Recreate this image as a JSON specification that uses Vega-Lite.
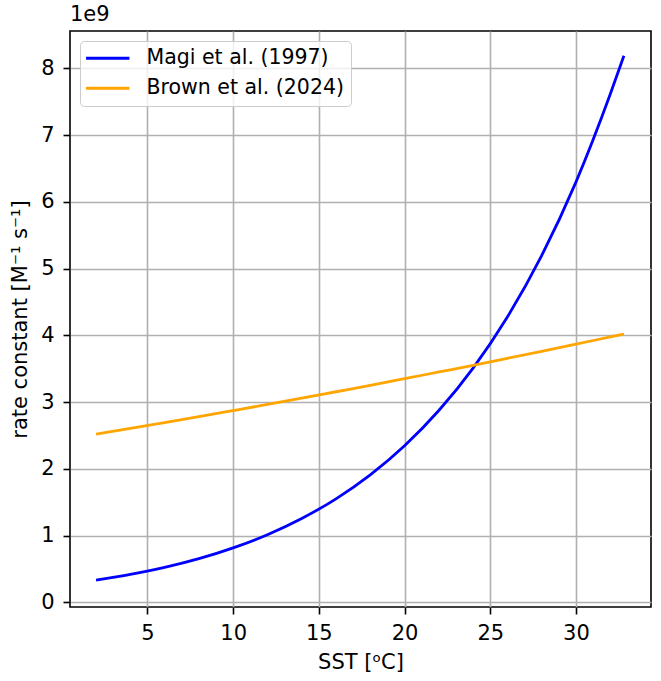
{
  "$schema": "https://vega.github.io/schema/vega-lite/v6.json",
  "width": 581,
  "height": 576,
  "autosize": {"type": "none"},
  "padding": {"left": 70, "top": 31, "right": 10, "bottom": 74},
  "title": {
    "text": "1e9",
    "anchor": "start",
    "frame": "group",
    "offset": 6,
    "font": "DejaVu Sans",
    "fontSize": 21,
    "fontWeight": "normal",
    "color": "black"
  },
  "data": {
    "values": [
      {"sst": 2, "k": 3.31e8, "source": "Magi et al. (1997)"},
      {"sst": 4, "k": 4.17e8, "source": "Magi et al. (1997)"},
      {"sst": 6, "k": 5.23e8, "source": "Magi et al. (1997)"},
      {"sst": 8, "k": 6.54e8, "source": "Magi et al. (1997)"},
      {"sst": 10, "k": 8.16e8, "source": "Magi et al. (1997)"},
      {"sst": 12, "k": 1.013e9, "source": "Magi et al. (1997)"},
      {"sst": 14, "k": 1.256e9, "source": "Magi et al. (1997)"},
      {"sst": 16, "k": 1.551e9, "source": "Magi et al. (1997)"},
      {"sst": 18, "k": 1.910e9, "source": "Magi et al. (1997)"},
      {"sst": 20, "k": 2.346e9, "source": "Magi et al. (1997)"},
      {"sst": 22, "k": 2.874e9, "source": "Magi et al. (1997)"},
      {"sst": 24, "k": 3.510e9, "source": "Magi et al. (1997)"},
      {"sst": 26, "k": 4.276e9, "source": "Magi et al. (1997)"},
      {"sst": 28, "k": 5.195e9, "source": "Magi et al. (1997)"},
      {"sst": 30, "k": 6.296e9, "source": "Magi et al. (1997)"},
      {"sst": 32, "k": 7.611e9, "source": "Magi et al. (1997)"},
      {"sst": 32.8, "k": 8.19e9, "source": "Magi et al. (1997)"},
      {"sst": 2, "k": 2.520e9, "source": "Brown et al. (2024)"},
      {"sst": 4, "k": 2.606e9, "source": "Brown et al. (2024)"},
      {"sst": 6, "k": 2.693e9, "source": "Brown et al. (2024)"},
      {"sst": 8, "k": 2.782e9, "source": "Brown et al. (2024)"},
      {"sst": 10, "k": 2.873e9, "source": "Brown et al. (2024)"},
      {"sst": 12, "k": 2.965e9, "source": "Brown et al. (2024)"},
      {"sst": 14, "k": 3.059e9, "source": "Brown et al. (2024)"},
      {"sst": 16, "k": 3.155e9, "source": "Brown et al. (2024)"},
      {"sst": 18, "k": 3.251e9, "source": "Brown et al. (2024)"},
      {"sst": 20, "k": 3.350e9, "source": "Brown et al. (2024)"},
      {"sst": 22, "k": 3.451e9, "source": "Brown et al. (2024)"},
      {"sst": 24, "k": 3.552e9, "source": "Brown et al. (2024)"},
      {"sst": 26, "k": 3.656e9, "source": "Brown et al. (2024)"},
      {"sst": 28, "k": 3.761e9, "source": "Brown et al. (2024)"},
      {"sst": 30, "k": 3.868e9, "source": "Brown et al. (2024)"},
      {"sst": 32, "k": 3.976e9, "source": "Brown et al. (2024)"},
      {"sst": 32.8, "k": 4.019e9, "source": "Brown et al. (2024)"}
    ]
  },
  "mark": {"type": "line", "strokeWidth": 2.8, "interpolate": "monotone", "clip": true},
  "encoding": {
    "x": {
      "field": "sst",
      "type": "quantitative",
      "title": "SST [ᵒC]",
      "scale": {"domain": [0.48, 34.38], "nice": false, "zero": false},
      "axis": {"values": [5, 10, 15, 20, 25, 30], "labelPadding": 8, "titlePadding": 8}
    },
    "y": {
      "field": "k",
      "type": "quantitative",
      "title": "rate constant [M⁻¹ s⁻¹]",
      "scale": {"domain": [-7e7, 8.56e9], "nice": false, "zero": false},
      "axis": {
        "values": [0, 1e9, 2e9, 3e9, 4e9, 5e9, 6e9, 7e9, 8e9],
        "labelExpr": "format(datum.value / 1e9, 'd')",
        "labelPadding": 9,
        "titlePadding": 10
      }
    },
    "color": {
      "field": "source",
      "type": "nominal",
      "sort": ["Magi et al. (1997)", "Brown et al. (2024)"],
      "scale": {
        "domain": ["Magi et al. (1997)", "Brown et al. (2024)"],
        "range": ["#0000ff", "#ffa500"]
      },
      "legend": {
        "title": null,
        "orient": "top-left",
        "offset": 10,
        "padding": 7,
        "rowPadding": 9,
        "symbolType": "M-1.6,0H4.6",
        "symbolSize": 196,
        "symbolStrokeWidth": 3,
        "labelOffset": 39,
        "labelLimit": 0,
        "labelFontSize": 20.5,
        "labelFont": "DejaVu Sans",
        "labelColor": "black",
        "strokeColor": "#cccccc",
        "fillColor": "rgba(255,255,255,0.8)",
        "cornerRadius": 4
      }
    }
  },
  "config": {
    "view": {"stroke": "black", "strokeWidth": 1.6},
    "axis": {
      "domain": false,
      "grid": true,
      "gridColor": "#b0b0b0",
      "gridWidth": 1.6,
      "ticks": true,
      "tickColor": "black",
      "tickWidth": 1.6,
      "tickSize": 7,
      "labelFont": "DejaVu Sans",
      "labelFontSize": 21,
      "labelColor": "black",
      "titleFont": "DejaVu Sans",
      "titleFontSize": 21,
      "titleFontWeight": "normal",
      "titleColor": "black",
      "labelFlush": false,
      "labelOverlap": false
    }
  }
}
